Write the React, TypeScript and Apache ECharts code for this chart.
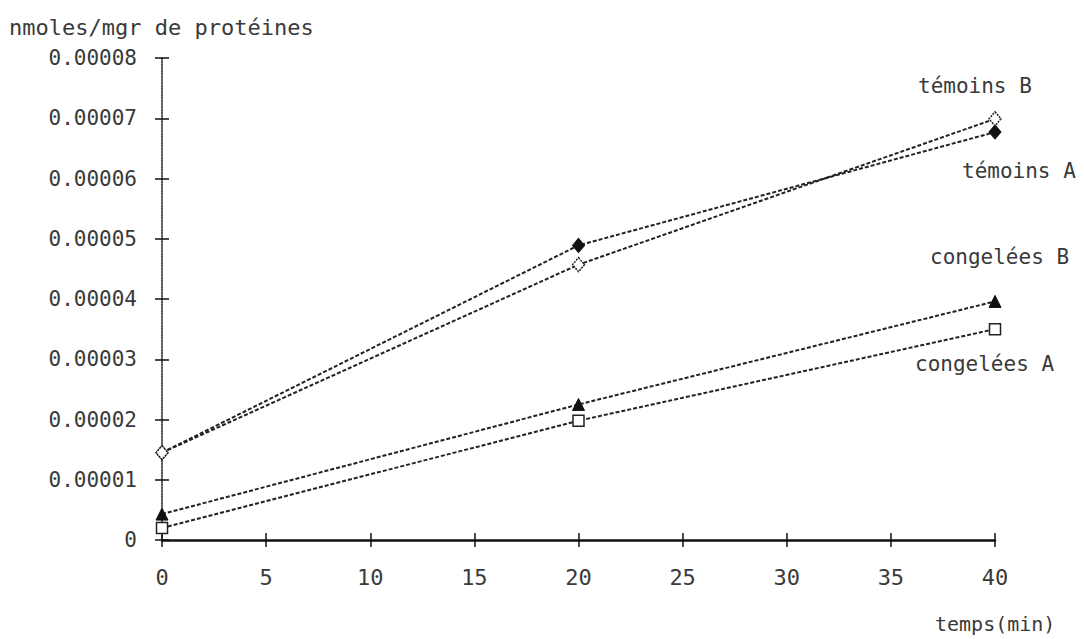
import React, { useEffect, useRef } from "react";
import * as echarts from "echarts";

const times = [0, 20, 40];
const temoinsA = [0.0000145, 0.0000489, 0.0000677];
const temoinsB = [0.0000145, 0.0000457, 0.0000699];
const congeleesB = [0.0000043, 0.0000225, 0.0000396];
const congeleesA = [0.000002, 0.0000198, 0.000035];
const seriesNames = ["témoins A", "témoins B", "congelées B", "congelées A"];
const yTitle = "nmoles/mgr de protéines";
const xTitle = "temps(min)";

const FONT = "DejaVu Sans Mono";
const TXT = "#3a3a3a";

export default function App() {
  const ref = useRef<HTMLDivElement>(null);
  useEffect(() => {
    if (!ref.current) return;
    const chart = echarts.init(ref.current, null, { renderer: "svg" });
    const pairs = (ys: number[]) => times.map((t, i) => [t, ys[i]]);
    const line = { color: "#222", width: 2, type: [4, 2] as any };
    const yLabel = (v: number) => (v === 0 ? "0" : v.toFixed(5));
    const lbl = (size: number) => `${size}px "${FONT}"`;
    chart.setOption({
      animation: false,
      backgroundColor: "#ffffff",
      grid: { left: 162, right: 89, top: 58, bottom: 99 },
      xAxis: [
        {
          type: "value",
          min: 0,
          max: 40,
          interval: 5,
          axisLine: { lineStyle: { color: "#111", width: 2.5 } },
          axisTick: { length: 7, lineStyle: { color: "#111", width: 1.5 } },
          axisLabel: { fontFamily: FONT, fontSize: 22, color: TXT, margin: 26 },
          splitLine: { show: false },
        },
        {
          type: "value",
          position: "bottom",
          min: 0,
          max: 40,
          interval: 5,
          axisLine: { show: false },
          axisTick: { inside: true, length: 7, lineStyle: { color: "#111", width: 1.5 } },
          axisLabel: { show: false },
          splitLine: { show: false },
        },
      ],
      yAxis: [
        {
          type: "value",
          min: 0,
          max: 0.00008,
          interval: 0.00001,
          axisLine: { show: true, lineStyle: { color: "#222", width: 1.5, type: [2, 1] } },
          axisTick: { show: true, length: 7, lineStyle: { color: "#111", width: 1.5 } },
          axisLabel: { fontFamily: FONT, fontSize: 21, color: TXT, margin: 25, formatter: yLabel },
          splitLine: { show: false },
        },
        {
          type: "value",
          position: "left",
          min: 0,
          max: 0.00008,
          interval: 0.00001,
          axisLine: { show: false },
          axisTick: { show: true, inside: true, length: 7, lineStyle: { color: "#111", width: 1.5 } },
          axisLabel: { show: false },
          splitLine: { show: false },
        },
      ],
      series: [
        {
          name: seriesNames[0],
          type: "line",
          data: pairs(temoinsA),
          symbol: "diamond",
          symbolSize: [12, 14],
          itemStyle: { color: "#111", borderColor: "#111", borderWidth: 1 },
          lineStyle: line,
          z: 2,
        },
        {
          name: seriesNames[1],
          type: "line",
          data: pairs(temoinsB),
          symbol: "diamond",
          symbolSize: [12, 14],
          itemStyle: { color: "#fff", borderColor: "#222", borderWidth: 1.5, borderType: [2, 1] },
          lineStyle: line,
          z: 3,
        },
        {
          name: seriesNames[2],
          type: "line",
          data: pairs(congeleesB),
          symbol: "triangle",
          symbolSize: [12, 12],
          itemStyle: { color: "#111", borderColor: "#111", borderWidth: 1 },
          lineStyle: line,
          z: 2,
        },
        {
          name: seriesNames[3],
          type: "line",
          data: pairs(congeleesA),
          symbol: "rect",
          symbolSize: [11, 11],
          itemStyle: { color: "#fff", borderColor: "#222", borderWidth: 1.5 },
          lineStyle: line,
          z: 3,
        },
      ],
      graphic: [
        { type: "text", left: 9, top: 16, style: { text: yTitle, font: lbl(22), fill: TXT } },
        { type: "text", left: 935, top: 614, style: { text: xTitle, font: lbl(20), fill: TXT } },
        { type: "text", left: 918, top: 75, style: { text: seriesNames[1], font: lbl(21), fill: TXT } },
        { type: "text", left: 962, top: 160, style: { text: seriesNames[0], font: lbl(21), fill: TXT } },
        { type: "text", left: 930, top: 246, style: { text: seriesNames[2], font: lbl(21), fill: TXT } },
        { type: "text", left: 915, top: 353, style: { text: seriesNames[3], font: lbl(21), fill: TXT } },
      ],
    });
    return () => chart.dispose();
  }, []);
  return <div ref={ref} style={{ width: 1084, height: 639, position: "fixed", left: 0, top: 0 }} />;
}
